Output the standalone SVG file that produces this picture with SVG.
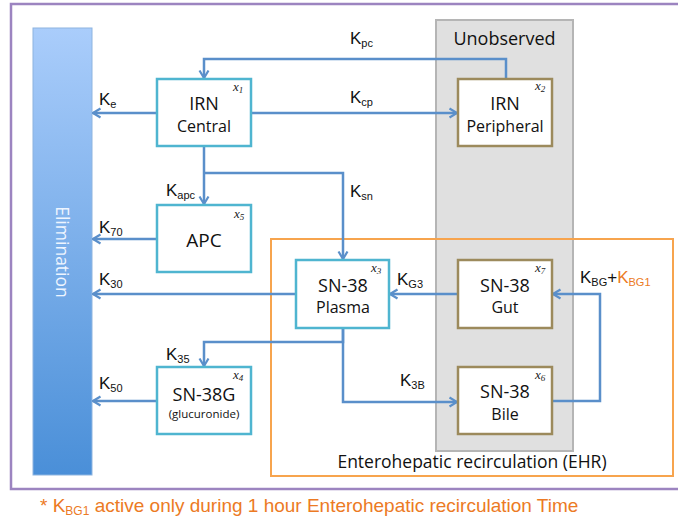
<svg xmlns="http://www.w3.org/2000/svg" width="678" height="523" viewBox="0 0 678 523">
<defs>
<linearGradient id="elimGrad" x1="0" y1="0" x2="0" y2="1">
<stop offset="0" stop-color="#aacdfb"/>
<stop offset="1" stop-color="#4a8fd8"/>
</linearGradient>
<marker id="arr" viewBox="0 0 12 12" refX="10.5" refY="6" markerWidth="12" markerHeight="12" markerUnits="userSpaceOnUse" orient="auto">
<path d="M3,1.5 L10.5,6 L3,10.5" fill="none" stroke="#5a8fca" stroke-width="2.2"/>
</marker>
<style>
.conn{fill:none;stroke:#5a8fca;stroke-width:2.5}
.obs{fill:#ffffff;stroke:#4fb5d0;stroke-width:2.5}
.unobs{fill:#ffffff;stroke:#9c8a5c;stroke-width:2.5}
.big{font-family:"Open Sans","Liberation Sans",sans-serif;font-size:18px;fill:#111;text-anchor:middle}
.mid{font-family:"Open Sans","Liberation Sans",sans-serif;font-size:16px;fill:#111;text-anchor:middle}
.sm{font-family:"Open Sans","Liberation Sans",sans-serif;font-size:11.5px;fill:#111;text-anchor:middle}
.xi{font-family:"Liberation Serif",serif;font-style:italic;font-size:13px;fill:#222}
.xs{font-size:9px}
.k{font-family:"Liberation Sans",sans-serif;font-size:17px;fill:#111}
.ks{font-size:11px}
.or{fill:#ec7a24}
</style>
</defs>
<rect x="11" y="4" width="680" height="485" fill="#ffffff" stroke="#9c84c0" stroke-width="2.5"/>
<g id="unobserved">
<rect x="436" y="20" width="137" height="431" fill="#e0e0e0" stroke="#b5b5b5" stroke-width="2"/>
<text x="504.5" y="45" class="big">Unobserved</text>
</g>
<g id="ehr">
<rect x="271" y="239" width="402" height="237" fill="none" stroke="#f7a44e" stroke-width="2"/>
<text x="472" y="468" class="mid" style="font-size:17.5px">Enterohepatic recirculation (EHR)</text>
</g>
<g id="elimination">
<rect x="33" y="28" width="59" height="447" fill="url(#elimGrad)" stroke="#8db4e0" stroke-width="1"/>
<text x="0" y="0" transform="translate(56,252) rotate(90)" class="mid" style="fill:#eef5ff;font-size:17.5px">Elimination</text>
</g>
<g id="connectors">
<path class="conn" d="M506,79 V59 H204 V78" marker-end="url(#arr)"/>
<path class="conn" d="M251,113 H457" marker-end="url(#arr)"/>
<path class="conn" d="M157,113 H93" marker-end="url(#arr)"/>
<path class="conn" d="M204,146 V204" marker-end="url(#arr)"/>
<path class="conn" d="M204,173 H343 V259" marker-end="url(#arr)"/>
<path class="conn" d="M157,239 H93" marker-end="url(#arr)"/>
<path class="conn" d="M296,294 H93" marker-end="url(#arr)"/>
<path class="conn" d="M458,294 H390" marker-end="url(#arr)"/>
<path class="conn" d="M343,328 V342 H204 V366" marker-end="url(#arr)"/>
<path class="conn" d="M343,328 V402 H457" marker-end="url(#arr)"/>
<path class="conn" d="M157,401 H93" marker-end="url(#arr)"/>
<path class="conn" d="M552,401 H600 V294 H553" marker-end="url(#arr)"/>
</g>
<g id="labels">
<text x="350" y="44" class="k">K<tspan class="ks" dy="3">pc</tspan></text>
<text x="350" y="103" class="k">K<tspan class="ks" dy="3">cp</tspan></text>
<text x="350" y="197" class="k">K<tspan class="ks" dy="3">sn</tspan></text>
<text x="99" y="105" class="k">K<tspan class="ks" dy="3">e</tspan></text>
<text x="166" y="196" class="k">K<tspan class="ks" dy="3">apc</tspan></text>
<text x="99" y="233" class="k">K<tspan class="ks" dy="3">70</tspan></text>
<text x="99" y="285" class="k">K<tspan class="ks" dy="3">30</tspan></text>
<text x="397" y="285" class="k">K<tspan class="ks" dy="3">G3</tspan></text>
<text x="166" y="360" class="k">K<tspan class="ks" dy="3">35</tspan></text>
<text x="99" y="389" class="k">K<tspan class="ks" dy="3">50</tspan></text>
<text x="400" y="386" class="k">K<tspan class="ks" dy="3">3B</tspan></text>
<text x="580" y="283" class="k">K<tspan class="ks" dy="3">BG</tspan><tspan dy="-3">+</tspan><tspan class="or">K</tspan><tspan class="ks or" dy="3">BG1</tspan></text>
</g>
<g id="x1">
<rect x="157" y="79" width="94" height="67" class="obs"/>
<text x="204" y="110" class="big">IRN</text>
<text x="204" y="132" class="mid">Central</text>
<text x="233" y="91" class="xi">x<tspan class="xs" dy="2">1</tspan></text>
</g>
<g id="x2">
<rect x="458" y="79" width="94" height="67" class="unobs"/>
<text x="505" y="110" class="big">IRN</text>
<text x="505" y="132" class="mid">Peripheral</text>
<text x="535" y="90" class="xi">x<tspan class="xs" dy="2">2</tspan></text>
</g>
<g id="x5">
<rect x="157" y="205" width="94" height="67" class="obs"/>
<text x="204" y="247" class="big" style="font-size:19px">APC</text>
<text x="234" y="218" class="xi">x<tspan class="xs" dy="2">5</tspan></text>
</g>
<g id="x3">
<rect x="296" y="260" width="93" height="68" class="obs"/>
<text x="343" y="292" class="big">SN-38</text>
<text x="343" y="313" class="mid">Plasma</text>
<text x="371" y="272" class="xi">x<tspan class="xs" dy="2">3</tspan></text>
</g>
<g id="x7">
<rect x="458" y="260" width="94" height="68" class="unobs"/>
<text x="505" y="292" class="big">SN-38</text>
<text x="505" y="313" class="mid">Gut</text>
<text x="535" y="272" class="xi">x<tspan class="xs" dy="2">7</tspan></text>
</g>
<g id="x4">
<rect x="157" y="367" width="94" height="67" class="obs"/>
<text x="204" y="401" class="big">SN-38G</text>
<text x="204" y="418" class="sm">(glucuronide)</text>
<text x="233" y="379" class="xi">x<tspan class="xs" dy="2">4</tspan></text>
</g>
<g id="x6">
<rect x="458" y="367" width="94" height="67" class="unobs"/>
<text x="505" y="398" class="big">SN-38</text>
<text x="505" y="420" class="mid">Bile</text>
<text x="535" y="379" class="xi">x<tspan class="xs" dy="2">6</tspan></text>
</g>
<g id="footnote">
<text x="40" y="512" class="k or" style="font-size:19px">* K<tspan class="ks" dy="3" style="font-size:12px">BG1</tspan><tspan dy="-3"> active only during 1 hour Enterohepatic recirculation Time</tspan></text>
</g>
</svg>
